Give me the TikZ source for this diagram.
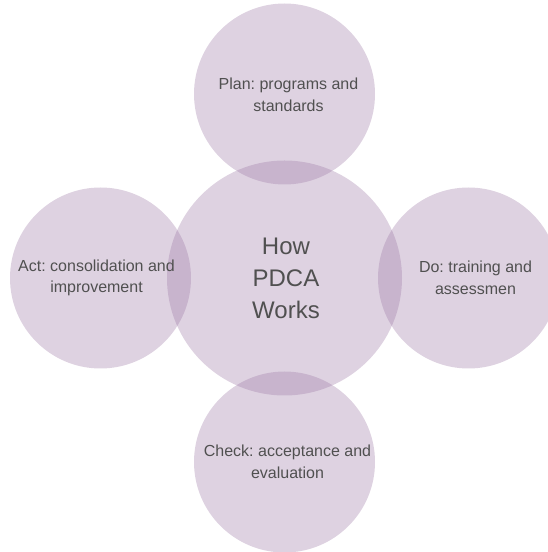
\documentclass[tikz,border=0pt]{standalone}
\usepackage{fontspec}
\setmainfont{Liberation Sans}
\frenchspacing
\definecolor{petalfill}{RGB}{155,119,164}
\definecolor{petaltext}{RGB}{80,80,80}
\tikzset{
  petal/.style={circle, fill=petalfill, fill opacity=0.33, draw=none, inner sep=0pt, minimum size=181pt},
  hub/.style={circle, fill=petalfill, fill opacity=0.33, draw=none, inner sep=0pt, minimum size=235pt},
  txt/.style={text=petaltext, align=center, font=\fontsize{16}{21.7}\selectfont},
  hubtxt/.style={text=petaltext, align=center, font=\fontsize{24}{32}\selectfont}
}
\begin{document}
\begin{tikzpicture}[x=1pt, y=1pt]
  \useasboundingbox (0,0) rectangle (548,552);
  \clip (0,0) rectangle (548,552);
  % Set the distance from the hub to each petal
  \def\dist{184pt}

  % The hub circle in the middle
  \node[hub] (pdca) at (284.5,274) {};

  % The four petals round the hub
  \foreach \name/\ang in {plan/90, do/0, check/270, act/180} {
    \node[petal] (\name) at ([shift={(\ang:\dist)}]pdca) {};
  }

  % Texts
  \node[hubtxt] (pdcatext) at ([xshift=1.5pt]pdca) {How\\PDCA\\Works};
  \node[txt] (plantext) at ([xshift=4pt, yshift=-1pt]plan) {Plan: programs and\\standards};
  \node[txt] (dotext) at ([xshift=7pt]do) {Do: training and\\assessmen};
  \node[txt] (checktext) at ([xshift=3pt]check) {Check: acceptance and\\evaluation};
  \node[txt] (acttext) at ([xshift=-4pt]act) {Act: consolidation and\\improvement};
\end{tikzpicture}
\end{document}
